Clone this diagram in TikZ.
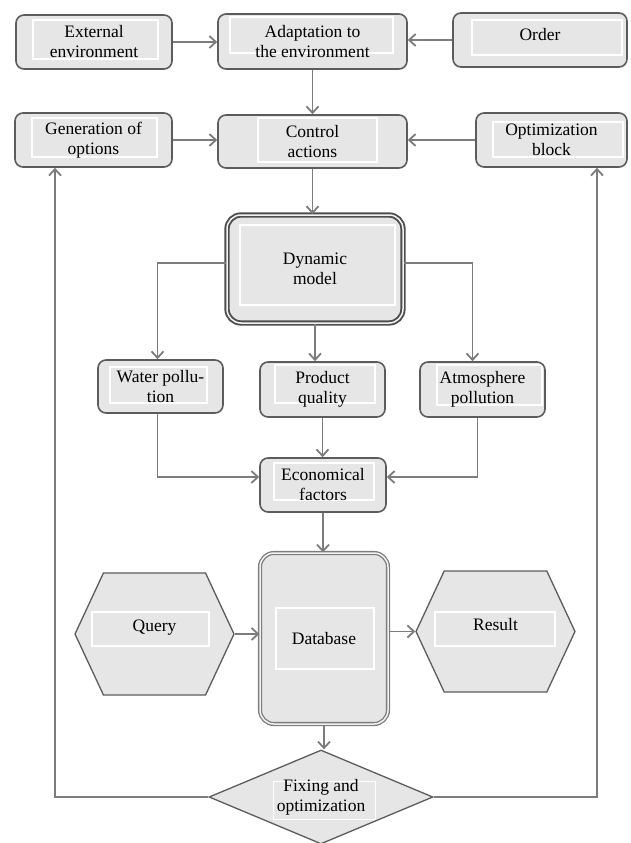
\documentclass[tikz,border=0pt]{standalone}
\usepackage{fontspec}
\setmainfont{Liberation Serif}
\usepackage{tikz}
\usetikzlibrary{positioning,shapes.geometric,shapes.symbols,arrows.meta}
\usepackage{xcolor}

\definecolor{boxfill}{HTML}{E6E6E6}
\definecolor{boxline}{HTML}{5C5C5C}
\definecolor{arrowline}{HTML}{7C7C7C}

\tikzset{
  inner frame/.style n args={4}{path picture={
      \draw[white,line width=1.2pt,sharp corners]
        ([xshift=#1pt,yshift=-#3pt]path picture bounding box.north west) rectangle
        ([xshift=-#2pt,yshift=#4pt]path picture bounding box.south east);}},
  block/.style={draw=boxline,fill=boxfill,line width=1.6pt,rounded corners=8pt,
    align=center,inner sep=0pt,font=\fontsize{17.5}{20}\selectfont},
  model/.style={block,draw=boxline!85!black,line width=1.9pt,double=boxfill!50!white,
    double distance=1.5pt,rounded corners=14pt},
  hexa/.style={block,rounded corners=0pt,line width=1.3pt,shape=signal,
    signal to=west and east,signal pointer angle=130},
  decision/.style={block,rounded corners=0pt,line width=1.3pt,shape=diamond,shape aspect=2.4},
  arr/.style={draw=arrowline,line width=1.8pt,-{Straight Barb[length=6.5pt,width=12pt]}}
}

\begin{document}
\begin{tikzpicture}[x=1pt,y=-1pt]
      \useasboundingbox (0,0) rectangle (630,843);

      % top rows
      \node[block,minimum width=156,minimum height=54,inner frame={17}{14}{5}{10}]
        (ext env) at (94,42) {External\\environment};
      \node[block,minimum width=189,minimum height=55,inner frame={12}{14}{3}{16}]
        (adaptation) at (312.5,41.5) {Adaptation to\\the environment};
      \node[block,minimum width=174,minimum height=54,inner frame={19}{5}{7}{12}]
        (order) at (540,40) {\raisebox{12pt}{Order}};
      \node[block,minimum width=157,minimum height=54,inner frame={17}{15}{5}{10}]
        (generation) at (93.5,140) {Generation of\\options};
      \node[block,minimum width=189,minimum height=53,inner frame={40}{30}{3}{6}]
        (control) at (312.5,141.5) {Control\\actions};
      \node[block,minimum width=151,minimum height=54,inner frame={17}{4}{9}{10}]
        (optimization) at (551.5,140) {Optimization\\block};

      % model and its outputs
      \node[model,minimum width=176,minimum height=108,inner frame={13}{8}{10}{18}]
        (dynamic) at (315,269) {Dynamic\\model};
      \node[block,minimum width=125,minimum height=53,inner frame={12}{16}{7}{10}]
        (water) at (160.5,386.5) {Water pollu-\\tion};
      \node[block,minimum width=125,minimum height=55,inner frame={15}{10}{3}{14}]
        (product) at (322.5,389.5) {Product\\quality};
      \node[block,minimum width=125,minimum height=55,inner frame={17}{3}{3}{12}]
        (atmosphere) at (482.5,389.5) {Atmosphere\\pollution};
      \node[block,minimum width=126,minimum height=54,inner frame={14}{12}{5}{12}]
        (economical) at (323,485) {Economical\\factors};

      % database row
      \node[model,draw=boxline!80,line width=1.3pt,minimum width=128,minimum height=171,
        inner frame={16}{14}{55}{55}] (database) at (324,638.5) {Database};
      \node[hexa,minimum width=159,minimum height=122,inner frame={17}{25}{39}{49}]
        (query) at (154.5,634) {\raisebox{16pt}{Query}};
      \node[hexa,minimum width=159,minimum height=121,inner frame={19}{20}{41}{46}]
        (result) at (495.5,631.5) {\raisebox{14pt}{Result}};
      \node[decision,minimum width=224,minimum height=94,inner frame={64}{57}{31}{24}]
        (fixing) at (321,797) {Fixing and\\optimization};

      % connectors
      \draw[arr] (ext env.east) -- (ext env.east -| adaptation.west);
      \draw[arr] (order.west) -- (order.west -| adaptation.east);
      \draw[arr] (adaptation.south) -- (adaptation.south |- control.north);
      \draw[arr] (generation.east) -- (generation.east -| control.west);
      \draw[arr] (optimization.west) -- (optimization.west -| control.east);
      \draw[arr] (control.south) -- (control.south |- dynamic.north);
      \draw[arr] ([yshift=6pt]dynamic.west) -| ([xshift=-3pt]water.north);
      \draw[arr] (dynamic.south) -- (dynamic.south |- product.north);
      \draw[arr] ([yshift=6pt]dynamic.east) -| ([xshift=-10pt]atmosphere.north);
      \draw[arr] ([xshift=-3pt]water.south) |- ([yshift=8pt]economical.west);
      \draw[arr] (product.south) -- (product.south |- economical.north);
      \draw[arr] ([xshift=-5pt]atmosphere.south) |- ([yshift=8pt]economical.east);
      \draw[arr] (economical.south) -- (economical.south |- database.north);
      \draw[arr] (query.east) -- (query.east -| database.west);
      \draw[arr] (result.west -| database.east) -- (result.west);
      \draw[arr] (database.south) -- (database.south |- fixing.north);
      \draw[arr] (fixing.west) -| ([xshift=-38.5pt]generation.south);
      \draw[arr] (fixing.east) -| ([xshift=45.5pt]optimization.south);
    \end{tikzpicture}
\end{document}
